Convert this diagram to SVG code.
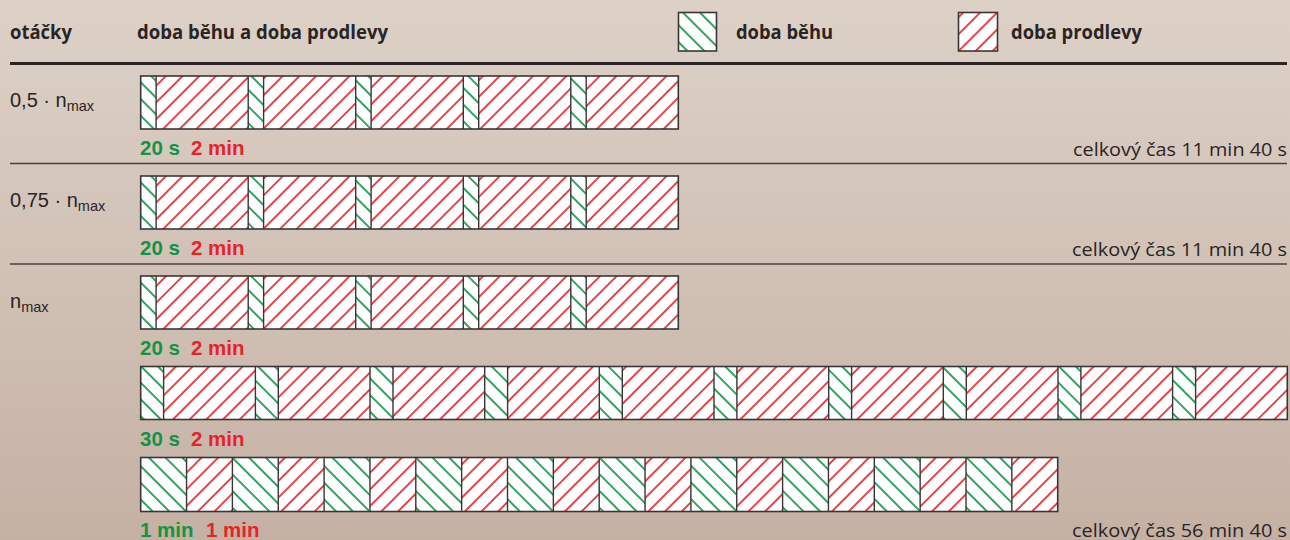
<svg xmlns="http://www.w3.org/2000/svg" width="1290" height="540" viewBox="0 0 1290 540">
<defs>
<linearGradient id="bg" x1="0" y1="0" x2="0" y2="1">
<stop offset="0" stop-color="#ddd1c7"/>
<stop offset="1" stop-color="#c5b1a4"/>
</linearGradient>
<pattern id="hg" patternUnits="userSpaceOnUse" width="11.8" height="11.8" patternTransform="rotate(-45)">
<rect width="11.8" height="11.8" fill="#fff"/>
<line x1="5.9" y1="-1" x2="5.9" y2="12.8" stroke="#109446" stroke-width="1.7"/>
</pattern>
<pattern id="hr" patternUnits="userSpaceOnUse" width="11.8" height="11.8" patternTransform="rotate(45)">
<rect width="11.8" height="11.8" fill="#fff"/>
<line x1="5.9" y1="-1" x2="5.9" y2="12.8" stroke="#e5232b" stroke-width="1.7"/>
</pattern>
<pattern id="hgL" patternUnits="userSpaceOnUse" width="12" height="12" patternTransform="rotate(-45)">
<rect width="12" height="12" fill="#fff"/>
<line x1="6" y1="-1" x2="6" y2="13" stroke="#109446" stroke-width="1.7"/>
</pattern>
<pattern id="hrL" patternUnits="userSpaceOnUse" width="12" height="12" patternTransform="rotate(45)">
<rect width="12" height="12" fill="#fff"/>
<line x1="6" y1="-1" x2="6" y2="13" stroke="#e5232b" stroke-width="1.7"/>
</pattern>
</defs>
<style>
.hd{font-family:"Open Sans","Liberation Sans",sans-serif;font-weight:700;font-size:20px;fill:#2a2424}
.lb{font-family:"Liberation Sans",Arial,sans-serif;font-size:20px;fill:#2a2424}
.sub{font-size:14.5px}
.tot{font-family:"Open Sans","Liberation Sans",sans-serif;font-size:17.5px;fill:#2a2424}
.g{fill:url(#hg)}
.r{fill:url(#hr)}
.sep{stroke:#3b3636;stroke-width:1.4;fill:none}
.out{stroke:#3b3636;stroke-width:1.6;fill:none}
.tg{font-family:"Liberation Sans",Arial,sans-serif;font-weight:700;font-size:20.5px;fill:#119445}
.tr{font-family:"Liberation Sans",Arial,sans-serif;font-weight:700;font-size:20.5px;fill:#e5232b}
.rule{stroke:#4a403d;stroke-width:1.6}
</style>
<rect width="1290" height="540" fill="url(#bg)"/>

<g id="header">
<text class="hd" x="10" y="39" textLength="62" lengthAdjust="spacingAndGlyphs">otáčky</text>
<text class="hd" x="137" y="39" textLength="251" lengthAdjust="spacingAndGlyphs">doba běhu a doba prodlevy</text>
</g>
<g id="legend-run">
<rect x="678.5" y="12.5" width="38" height="38.5" fill="url(#hgL)" stroke="#3b3636" stroke-width="1.6"/>
<text class="hd" x="736" y="39" textLength="97" lengthAdjust="spacingAndGlyphs">doba běhu</text>
</g>
<g id="legend-pause">
<rect x="958.5" y="12.5" width="39" height="38.5" fill="url(#hrL)" stroke="#3b3636" stroke-width="1.6"/>
<text class="hd" x="1011" y="39" textLength="131" lengthAdjust="spacingAndGlyphs">doba prodlevy</text>
</g>

<g id="rules">
<line x1="10" y1="63.5" x2="1287" y2="63.5" stroke="#2a2424" stroke-width="2.8"/>
<line class="rule" x1="10" y1="163.5" x2="1287" y2="163.5"/>
<line class="rule" x1="10" y1="264" x2="1287" y2="264"/>
</g>

<g id="row1">
<text class="lb" x="10" y="107">0,5 · n<tspan class="sub" dy="4">max</tspan></text>
<g id="bar1">
<rect class="g" x="140.7" y="76" width="15.4" height="53"/><rect class="r" x="156.1" y="76" width="92.1" height="53"/>
<rect class="g" x="248.2" y="76" width="15.4" height="53"/><rect class="r" x="263.6" y="76" width="92.1" height="53"/>
<rect class="g" x="355.7" y="76" width="15.4" height="53"/><rect class="r" x="371.1" y="76" width="92.2" height="53"/>
<rect class="g" x="463.3" y="76" width="15.4" height="53"/><rect class="r" x="478.7" y="76" width="92.1" height="53"/>
<rect class="g" x="570.8" y="76" width="15.4" height="53"/><rect class="r" x="586.2" y="76" width="92.1" height="53"/>
<path class="sep" d="M156.1 76V129M248.2 76V129M263.6 76V129M355.7 76V129M371.1 76V129M463.3 76V129M478.7 76V129M570.8 76V129M586.2 76V129"/>
<rect class="out" x="140.7" y="76" width="537.6" height="53"/>
</g>
<text class="tg" x="140" y="155">20 s</text><text class="tr" x="191" y="155">2 min</text>
<text class="tot" x="1073" y="156" textLength="214" lengthAdjust="spacingAndGlyphs">celkový čas 11 min 40 s</text>
</g>

<g id="row2">
<text class="lb" x="10" y="207">0,75 · n<tspan class="sub" dy="4">max</tspan></text>
<g id="bar2">
<rect class="g" x="140.7" y="176" width="15.4" height="53"/><rect class="r" x="156.1" y="176" width="92.1" height="53"/>
<rect class="g" x="248.2" y="176" width="15.4" height="53"/><rect class="r" x="263.6" y="176" width="92.1" height="53"/>
<rect class="g" x="355.7" y="176" width="15.4" height="53"/><rect class="r" x="371.1" y="176" width="92.2" height="53"/>
<rect class="g" x="463.3" y="176" width="15.4" height="53"/><rect class="r" x="478.7" y="176" width="92.1" height="53"/>
<rect class="g" x="570.8" y="176" width="15.4" height="53"/><rect class="r" x="586.2" y="176" width="92.1" height="53"/>
<path class="sep" d="M156.1 176V229M248.2 176V229M263.6 176V229M355.7 176V229M371.1 176V229M463.3 176V229M478.7 176V229M570.8 176V229M586.2 176V229"/>
<rect class="out" x="140.7" y="176" width="537.6" height="53"/>
</g>
<text class="tg" x="140" y="255">20 s</text><text class="tr" x="191" y="255">2 min</text>
<text class="tot" x="1072" y="256" textLength="215" lengthAdjust="spacingAndGlyphs">celkový čas 11 min 40 s</text>
</g>

<g id="row3">
<text class="lb" x="10" y="308">n<tspan class="sub" dy="4">max</tspan></text>
<g id="bar3a">
<rect class="g" x="140.7" y="276" width="15.4" height="53"/><rect class="r" x="156.1" y="276" width="92.1" height="53"/>
<rect class="g" x="248.2" y="276" width="15.4" height="53"/><rect class="r" x="263.6" y="276" width="92.1" height="53"/>
<rect class="g" x="355.7" y="276" width="15.4" height="53"/><rect class="r" x="371.1" y="276" width="92.2" height="53"/>
<rect class="g" x="463.3" y="276" width="15.4" height="53"/><rect class="r" x="478.7" y="276" width="92.1" height="53"/>
<rect class="g" x="570.8" y="276" width="15.4" height="53"/><rect class="r" x="586.2" y="276" width="92.1" height="53"/>
<path class="sep" d="M156.1 276V329M248.2 276V329M263.6 276V329M355.7 276V329M371.1 276V329M463.3 276V329M478.7 276V329M570.8 276V329M586.2 276V329"/>
<rect class="out" x="140.7" y="276" width="537.6" height="53"/>
</g>
<text class="tg" x="140" y="355">20 s</text><text class="tr" x="191" y="355">2 min</text>

<g id="bar3b">
<rect class="g" x="140.7" y="366.5" width="22.9" height="53"/><rect class="r" x="163.6" y="366.5" width="91.8" height="53"/>
<rect class="g" x="255.4" y="366.5" width="22.9" height="53"/><rect class="r" x="278.3" y="366.5" width="91.7" height="53"/>
<rect class="g" x="370.0" y="366.5" width="23.0" height="53"/><rect class="r" x="393.0" y="366.5" width="91.7" height="53"/>
<rect class="g" x="484.7" y="366.5" width="22.9" height="53"/><rect class="r" x="507.6" y="366.5" width="91.7" height="53"/>
<rect class="g" x="599.3" y="366.5" width="23.0" height="53"/><rect class="r" x="622.3" y="366.5" width="91.7" height="53"/>
<rect class="g" x="714.0" y="366.5" width="22.9" height="53"/><rect class="r" x="736.9" y="366.5" width="91.8" height="53"/>
<rect class="g" x="828.7" y="366.5" width="22.9" height="53"/><rect class="r" x="851.6" y="366.5" width="91.7" height="53"/>
<rect class="g" x="943.3" y="366.5" width="23.0" height="53"/><rect class="r" x="966.3" y="366.5" width="91.7" height="53"/>
<rect class="g" x="1058.0" y="366.5" width="22.9" height="53"/><rect class="r" x="1080.9" y="366.5" width="91.7" height="53"/>
<rect class="g" x="1172.6" y="366.5" width="23.0" height="53"/><rect class="r" x="1195.6" y="366.5" width="91.7" height="53"/>
<path class="sep" d="M163.6 366.5v53M255.4 366.5v53M278.3 366.5v53M370.0 366.5v53M393.0 366.5v53M484.7 366.5v53M507.6 366.5v53M599.3 366.5v53M622.3 366.5v53M714.0 366.5v53M736.9 366.5v53M828.7 366.5v53M851.6 366.5v53M943.3 366.5v53M966.3 366.5v53M1058.0 366.5v53M1080.9 366.5v53M1172.6 366.5v53M1195.6 366.5v53"/>
<rect class="out" x="140.7" y="366.5" width="1146.6" height="53"/>
</g>
<text class="tg" x="140" y="446">30 s</text><text class="tr" x="191" y="446">2 min</text>

<g id="bar3c">
<rect class="g" x="140.7" y="457.5" width="45.85" height="54"/><rect class="r" x="186.55" y="457.5" width="45.85" height="54"/>
<rect class="g" x="232.4" y="457.5" width="45.85" height="54"/><rect class="r" x="278.25" y="457.5" width="45.85" height="54"/>
<rect class="g" x="324.1" y="457.5" width="45.85" height="54"/><rect class="r" x="369.95" y="457.5" width="45.85" height="54"/>
<rect class="g" x="415.8" y="457.5" width="45.85" height="54"/><rect class="r" x="461.65" y="457.5" width="45.85" height="54"/>
<rect class="g" x="507.5" y="457.5" width="45.85" height="54"/><rect class="r" x="553.35" y="457.5" width="45.85" height="54"/>
<rect class="g" x="599.2" y="457.5" width="45.85" height="54"/><rect class="r" x="645.05" y="457.5" width="45.85" height="54"/>
<rect class="g" x="690.9" y="457.5" width="45.85" height="54"/><rect class="r" x="736.75" y="457.5" width="45.85" height="54"/>
<rect class="g" x="782.6" y="457.5" width="45.85" height="54"/><rect class="r" x="828.45" y="457.5" width="45.85" height="54"/>
<rect class="g" x="874.3" y="457.5" width="45.85" height="54"/><rect class="r" x="920.15" y="457.5" width="45.85" height="54"/>
<rect class="g" x="966.0" y="457.5" width="45.85" height="54"/><rect class="r" x="1011.85" y="457.5" width="45.85" height="54"/>
<path class="sep" d="M186.55 457.5v54M232.4 457.5v54M278.25 457.5v54M324.1 457.5v54M369.95 457.5v54M415.8 457.5v54M461.65 457.5v54M507.5 457.5v54M553.35 457.5v54M599.2 457.5v54M645.05 457.5v54M690.9 457.5v54M736.75 457.5v54M782.6 457.5v54M828.45 457.5v54M874.3 457.5v54M920.15 457.5v54M966.0 457.5v54M1011.85 457.5v54"/>
<rect class="out" x="140.7" y="457.5" width="917" height="54"/>
</g>
<text class="tg" x="140" y="537">1 min</text><text class="tr" x="206" y="537">1 min</text>
<text class="tot" x="1072" y="537" textLength="215" lengthAdjust="spacingAndGlyphs">celkový čas 56 min 40 s</text>
</g>
</svg>
